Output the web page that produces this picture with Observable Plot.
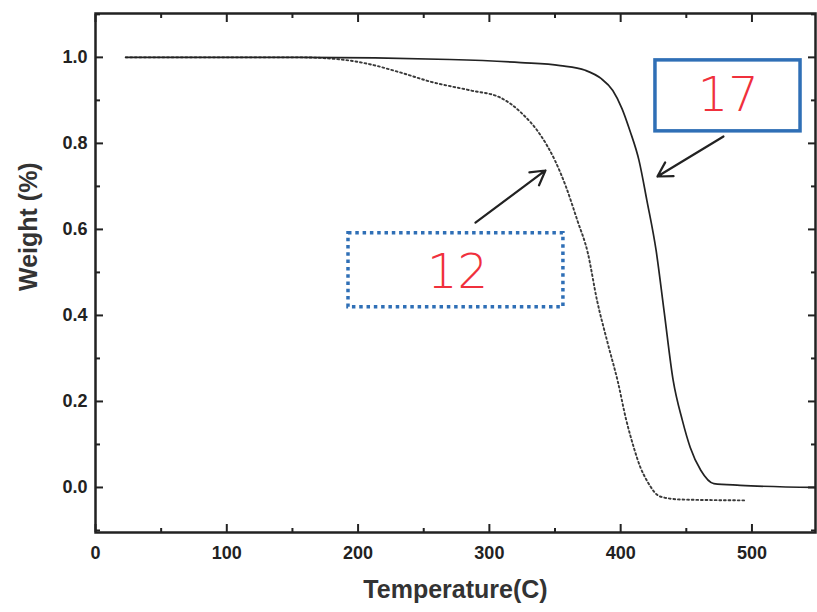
<!DOCTYPE html>
<html>
<head>
<meta charset="utf-8">
<script src="https://cdn.jsdelivr.net/npm/d3@7"></script>
<script src="https://cdn.jsdelivr.net/npm/@observablehq/plot@0.6"></script>
<style>
  html, body { margin: 0; padding: 0; background: #fff; }
</style>
</head>
<body>
<div id="chart"></div>
<script>
// Sample 17 (solid line)
const temp17 = [23, 156, 270, 324, 354, 373, 385, 394, 401, 407, 414, 420, 427, 433, 440, 447, 453, 461, 471, 491, 548];
const weight17 = [1.0, 1.0, 0.995, 0.988, 0.981, 0.970, 0.951, 0.923, 0.881, 0.830, 0.760, 0.667, 0.551, 0.412, 0.249, 0.156, 0.093, 0.040, 0.009, 0.005, 0.0];

// Sample 12 (dotted line)
const temp12 = [23, 156, 187, 209, 232, 257, 286, 308, 324, 339, 350, 358, 367, 375, 382, 390, 398, 404, 410, 415, 420, 430, 446, 494];
const weight12 = [1.0, 1.0, 0.995, 0.984, 0.965, 0.942, 0.923, 0.907, 0.872, 0.819, 0.760, 0.702, 0.621, 0.545, 0.435, 0.337, 0.244, 0.160, 0.093, 0.047, 0.016, -0.021, -0.028, -0.030];

// Axis ticks
const xMajor = [0, 100, 200, 300, 400, 500];
const xMinor = [50, 150, 250, 350, 450];
const yMajor = [0.0, 0.2, 0.4, 0.6, 0.8, 1.0];
const yMinor = [-0.1, 0.1, 0.3, 0.5, 0.7, 0.9, 1.1];

// Annotation boxes (hand-drawn labels)
const boxLabels = ["17", "12"];
const boxX1 = [426.5, 192.7];
const boxX2 = [537, 356.4];
const boxY1 = [0.993, 0.591];
const boxY2 = [0.828, 0.419];
const labelX = [482, 275.7];
const labelY = [0.912, 0.50];
const arrowX1 = [478.3, 289.4];
const arrowY1 = [0.816, 0.616];
const arrowX2 = [428, 342.7];
const arrowY2 = [0.723, 0.737];

const s17 = temp17.map((t, i) => ({t, w: weight17[i]}));
const s12 = temp12.map((t, i) => ({t, w: weight12[i]}));
const boxes = boxLabels.map((l, i) => ({l, x1: boxX1[i], x2: boxX2[i], y1: boxY1[i], y2: boxY2[i], lx: labelX[i], ly: labelY[i], ax1: arrowX1[i], ay1: arrowY1[i], ax2: arrowX2[i], ay2: arrowY2[i]}));

const ink = "#222";
const blue = "#2f6fb6";
const red = "#f0303c";
const tickFont = 18;

const chart = Plot.plot({
  width: 817,
  height: 612,
  marginLeft: 95,
  marginRight: 2,
  marginTop: 13,
  marginBottom: 80,
  style: {fontFamily: "'Liberation Sans', Arial, sans-serif", fontWeight: "bold", color: ink, background: "#fff"},
  x: {domain: [0, 548.4]},
  y: {domain: [-0.1047, 1.102]},
  marks: [
    // labelled axes
    Plot.axisX({anchor: "bottom", ticks: xMajor, tickSize: 0, tickPadding: 14, tickFormat: d => String(d), fontSize: tickFont, label: null}),
    Plot.axisY({anchor: "left", ticks: yMajor, tickSize: 0, tickPadding: 8, tickFormat: d => d.toFixed(1), fontSize: tickFont, label: null}),
    // inward ticks (mirrored)
    Plot.axisX({anchor: "bottom", ticks: xMajor, tickSize: -8, strokeWidth: 2, tickFormat: () => "", label: null}),
    Plot.axisX({anchor: "bottom", ticks: xMinor, tickSize: -4, strokeWidth: 2, tickFormat: () => "", label: null}),
    Plot.axisX({anchor: "top", ticks: xMajor, tickSize: -8, strokeWidth: 2, tickFormat: () => "", label: null}),
    Plot.axisX({anchor: "top", ticks: xMinor, tickSize: -4, strokeWidth: 2, tickFormat: () => "", label: null}),
    Plot.axisY({anchor: "left", ticks: yMajor, tickSize: -8, strokeWidth: 2, tickFormat: () => "", label: null}),
    Plot.axisY({anchor: "left", ticks: yMinor, tickSize: -5, strokeWidth: 2, tickFormat: () => "", label: null}),
    Plot.axisY({anchor: "right", ticks: yMajor, tickSize: -8, strokeWidth: 2, tickFormat: () => "", label: null}),
    Plot.axisY({anchor: "right", ticks: yMinor, tickSize: -5, strokeWidth: 2, tickFormat: () => "", label: null}),
    Plot.frame({stroke: ink, strokeWidth: 2.5}),
    // axis titles
    Plot.text(["Temperature(C)"], {frameAnchor: "bottom", dy: 65, fontSize: 25, fill: "#333"}),
    Plot.text(["Weight (%)"], {frameAnchor: "left", dx: -67, dy: 18, rotate: -90, fontSize: 25, fill: "#333"}),
    // curves
    Plot.line(s12, {x: "t", y: "w", curve: "monotone-x", stroke: "#3a3a3a", strokeWidth: 1.9, strokeDasharray: "1.8,2.8"}),
    Plot.line(s17, {x: "t", y: "w", curve: "monotone-x", stroke: ink, strokeWidth: 1.7}),
    // annotations
    Plot.rect(boxes.filter(d => d.l === "17"), {x1: "x1", x2: "x2", y1: "y1", y2: "y2", fill: "none", stroke: blue, strokeWidth: 3.5}),
    Plot.rect(boxes.filter(d => d.l === "12"), {x1: "x1", x2: "x2", y1: "y1", y2: "y2", fill: "none", stroke: blue, strokeWidth: 3.5, strokeDasharray: "3.5,3.8"}),
    Plot.text(boxes, {x: "lx", y: "ly", text: "l", fill: red, fontSize: 48, fontWeight: 200, fontFamily: "'DejaVu Sans', sans-serif"}),
    Plot.arrow(boxes, {x1: "ax1", y1: "ay1", x2: "ax2", y2: "ay2", stroke: ink, strokeWidth: 2.2, headLength: 11})
  ]
});
document.getElementById("chart").appendChild(chart);
</script>
</body>
</html>
